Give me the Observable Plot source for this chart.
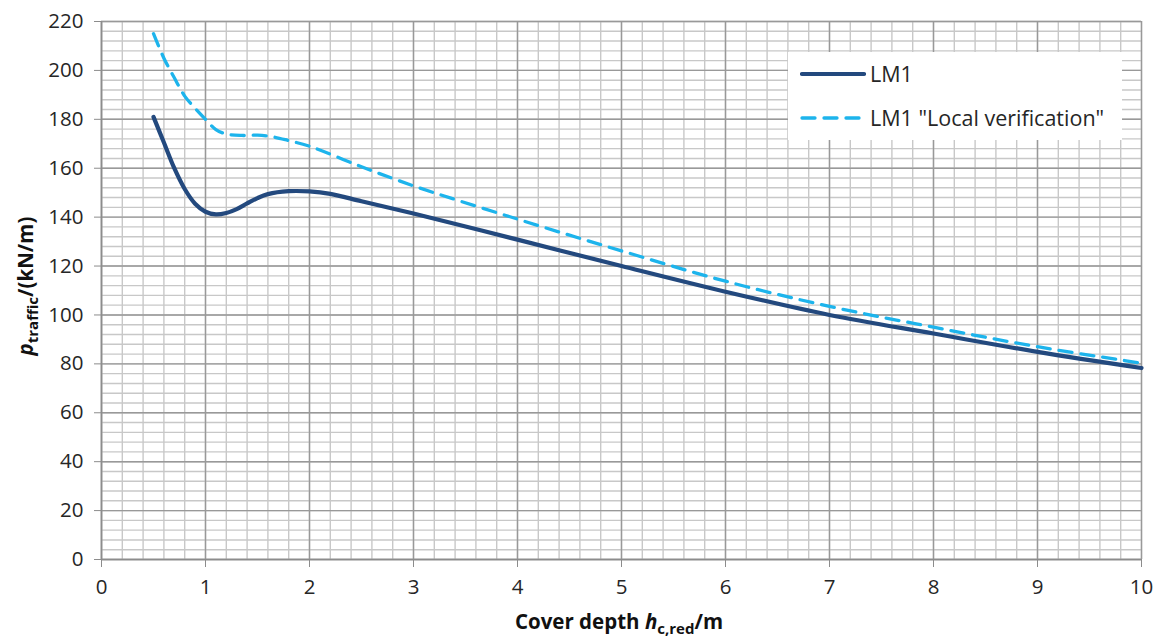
<!DOCTYPE html>
<html>
<head>
<meta charset="utf-8">
<script src="https://cdn.jsdelivr.net/npm/d3@7"></script>
<script src="https://cdn.jsdelivr.net/npm/@observablehq/plot@0.6"></script>
<style>
  html, body { margin: 0; padding: 0; background: #fff; }
  #wrap { position: relative; width: 1159px; height: 643px; font-family: "Open Sans", Lato, sans-serif; }
  #legend { position: absolute; left: 788px; top: 52px; width: 334px; height: 88px; background: #fff; }
  #legend .row { position: absolute; left: 12px; display: flex; align-items: center; font-size: 21.5px; color: #262626; }
  #legend svg { margin-right: 4px; }
</style>
</head>
<body>
<div id="wrap"></div>
<script>
// Data
const depthLM1 = [0.5, 0.6, 0.7, 0.8, 0.9, 1.0, 1.1, 1.2, 1.3, 1.4, 1.5, 1.6, 1.8, 2.0, 2.2, 2.5, 3, 4, 5, 6, 7, 8, 9, 10];
const valuesLM1 = [181, 170.5, 160, 151.5, 145.5, 142.2, 141.1, 141.7, 143.3, 145.6, 147.8, 149.4, 150.6, 150.5, 149.5, 146.5, 141.5, 130.8, 120, 109.5, 100, 92.4, 84.9, 78.3];
const depthLocal = [0.5, 0.6, 0.7, 0.8, 0.9, 1.0, 1.1, 1.2, 1.35, 1.5, 1.65, 1.8, 2.0, 2.5, 3, 4, 5, 6, 7, 8, 9, 10];
const valuesLocal = [215, 205, 197, 189.5, 184.5, 180, 175.8, 174, 173.4, 173.5, 172.8, 171.3, 169, 160.6, 152.8, 139.2, 126.2, 113.8, 103.5, 95, 87, 80.3];
const seriesNames = ["LM1", "LM1 \"Local verification\""];
const xTicks = [0, 1, 2, 3, 4, 5, 6, 7, 8, 9, 10];
const yTicks = [0, 20, 40, 60, 80, 100, 120, 140, 160, 180, 200, 220];
const xMinorTicks = d3.range(0, 10.001, 0.2);
const yMinorTicks = d3.range(0, 220.001, 4);

const colLM1 = "#23497e";
const colLocal = "#1db4ec";

const lm1 = depthLM1.map((d, i) => ({x: d, y: valuesLM1[i]}));
const local = depthLocal.map((d, i) => ({x: d, y: valuesLocal[i]}));

const chart = Plot.plot({
  width: 1159,
  height: 643,
  marginLeft: 101,
  marginRight: 18,
  marginTop: 21,
  marginBottom: 84,
  style: {fontFamily: "'Open Sans', Lato, sans-serif", fontSize: "20px", color: "#262626", background: "#fff"},
  x: {domain: [0, 10]},
  y: {domain: [0, 220]},
  marks: [
    Plot.gridX(xMinorTicks, {stroke: "#c8c8c8", strokeOpacity: 1, strokeWidth: 1.4}),
    Plot.gridY(yMinorTicks, {stroke: "#c8c8c8", strokeOpacity: 1, strokeWidth: 1.4}),
    Plot.gridX(xTicks, {stroke: "#999999", strokeOpacity: 1, strokeWidth: 1.4}),
    Plot.gridY(yTicks, {stroke: "#999999", strokeOpacity: 1, strokeWidth: 1.4}),
    Plot.ruleX([0], {stroke: "#8c8c8c", strokeWidth: 1.6}),
    Plot.ruleY([0], {stroke: "#8c8c8c", strokeWidth: 1.6}),
    Plot.axisX(xTicks, {tickSize: 8, tickPadding: 12, stroke: "#8c8c8c", fill: "#262626", label: null, fontSize: 20.5}),
    Plot.axisY(yTicks, {tickSize: 7, tickPadding: 11, stroke: "#8c8c8c", fill: "#262626", label: null, fontSize: 20.5}),
    Plot.line(local, {x: "x", y: "y", stroke: colLocal, strokeWidth: 3.3, strokeDasharray: "13,9", curve: "catmull-rom"}),
    Plot.line(lm1, {x: "x", y: "y", stroke: colLM1, strokeWidth: 4.2, curve: "catmull-rom"})
  ]
});

const wrap = document.getElementById("wrap");
wrap.appendChild(chart);

// Axis titles with italic symbols and subscripts
const svg = d3.select(chart);
const xt = svg.append("text")
  .attr("x", 619).attr("y", 629)
  .attr("text-anchor", "middle")
  .attr("font-weight", "bold").attr("font-size", 20.5).attr("fill", "#111");
xt.append("tspan").text("Cover depth ");
xt.append("tspan").attr("font-style", "italic").text("h");
xt.append("tspan").attr("font-size", 15).attr("dy", 5).text("c,red");
xt.append("tspan").attr("dy", -5).text("/m");

const yt = svg.append("text")
  .attr("transform", "translate(33,286) rotate(-90)")
  .attr("text-anchor", "middle")
  .attr("font-weight", "bold").attr("font-size", 20.5).attr("fill", "#111");
yt.append("tspan").attr("font-style", "italic").text("p");
yt.append("tspan").attr("font-size", 15).attr("dy", 5).text("traffic");
yt.append("tspan").attr("dy", -5).text("/(kN/m)");

// Legend
const legend = document.createElement("div");
legend.id = "legend";
const styles = [
  {stroke: colLM1, width: 4.2, dash: null},
  {stroke: colLocal, width: 3.3, dash: "13,9"}
];
seriesNames.forEach((name, i) => {
  const row = document.createElement("div");
  row.className = "row";
  row.style.top = (i === 0 ? 7 : 51) + "px";
  const s = styles[i];
  row.innerHTML = `<svg width="66" height="28"><line x1="2" x2="64" y1="14" y2="14" stroke="${s.stroke}" stroke-width="${s.width}" stroke-linecap="round" ${s.dash ? `stroke-dasharray="${s.dash}"` : ""}/></svg><span></span>`;
  row.querySelector("span").textContent = name;
  legend.appendChild(row);
});
wrap.appendChild(legend);
</script>
</body>
</html>
